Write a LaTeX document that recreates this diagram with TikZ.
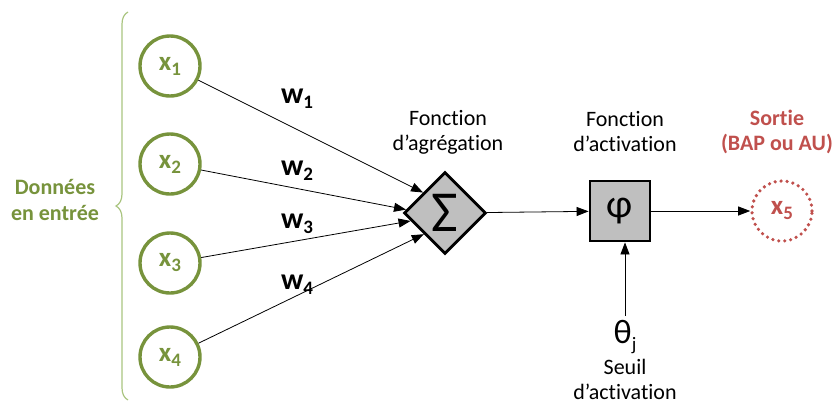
\documentclass[tikz,border=0pt]{standalone}
\usepackage{fontspec}
\setmainfont{Carlito}[Ligatures=NoCommon]
\usetikzlibrary{arrows.meta,shapes.geometric,decorations.pathreplacing}
\definecolor{vert}{HTML}{77933C}
\definecolor{vertclair}{HTML}{A9C47F}
\definecolor{rouge}{HTML}{C0504D}
\definecolor{gris}{HTML}{BFBFBF}
\newcommand{\bas}[1]{\raisebox{-5pt}{\fontsize{19}{19}\selectfont #1}}
\begin{document}
\begin{tikzpicture}[x=1pt,y=-1pt,
  entree/.style={circle,draw=vert,line width=3.4pt,minimum size=60pt,inner sep=0pt,
    text=vert,font=\fontsize{27}{27}\selectfont\bfseries},
  poids/.style={font=\fontsize{30}{30}\selectfont\bfseries},
  titre/.style={align=center,font=\fontsize{22}{25}\selectfont},
  fleche/.style={-{Triangle[length=12pt,width=9pt]},line width=0.8pt}]
\useasboundingbox (0,0) rectangle (835,407);
% donnees en entree
\draw[vertclair,line width=1.2pt,decorate,decoration={brace,amplitude=12pt}]
  (128,400) -- (128,12);
\node[titre,text=vert,font=\fontsize{22}{26}\selectfont\bfseries] (donnees) at (55,200) {Données\\en entrée};
\node[entree] (x1) at (170,66) {x\bas{1}};
\node[entree] (x2) at (170,164) {x\bas{2}};
\node[entree] (x3) at (170,263) {x\bas{3}};
\node[entree] (x4) at (170,357) {x\bas{4}};
% agregation
\node[diamond,draw,fill=gris,line width=2.8pt,minimum width=82pt,minimum height=82pt,
  inner sep=0pt,font=\fontsize{58}{58}\selectfont] (somme) at (445,213) {Σ};
\node[titre] (agreg) at (448,132) {Fonction\\d’agrégation};
\draw[fleche] (x1) -- (somme.137);
\draw[fleche] (x2) -- (somme.175);
\draw[fleche] (x3) -- (somme.193);
\draw[fleche] (x4) -- (somme.225);
\node[poids] (w1) at (297,99) {w\bas{1}};
\node[poids] (w2) at (297,171) {w\bas{2}};
\node[poids] (w3) at (297,224) {w\bas{3}};
\node[poids] (w4) at (297,285) {w\bas{4}};
% activation
\node[rectangle,draw,fill=gris,line width=2.8pt,minimum size=60pt,inner sep=0pt,
  font=\fontsize{40}{40}\selectfont] (phi) at (620,211) {φ};
\node[titre] (activ) at (625,132) {Fonction\\d’activation};
\draw[fleche] (somme) -- (phi);
\node[circle,draw=rouge,line width=3.6pt,dash pattern=on 0pt off 6pt,line cap=round,
  minimum size=60pt,inner sep=0pt,text=rouge,font=\fontsize{27}{27}\selectfont\bfseries] (x5) at (782,211) {x\bas{5}};
\node[titre,text=rouge,font=\fontsize{22}{25}\selectfont\bfseries] (sortie) at (777,132) {Sortie\\(BAP ou AU)};
\draw[fleche] (phi) -- (x5);
% seuil
\node[font=\fontsize{34}{34}\selectfont,inner sep=4pt] (theta) at (625,337) {θ\raisebox{-7pt}{\fontsize{19}{19}\selectfont j}};
\node[titre] (seuil) at (625,379) {Seuil\\d’activation};
\draw[fleche] (theta.north) -- (theta.north |- phi.south);
\end{tikzpicture}
\end{document}
